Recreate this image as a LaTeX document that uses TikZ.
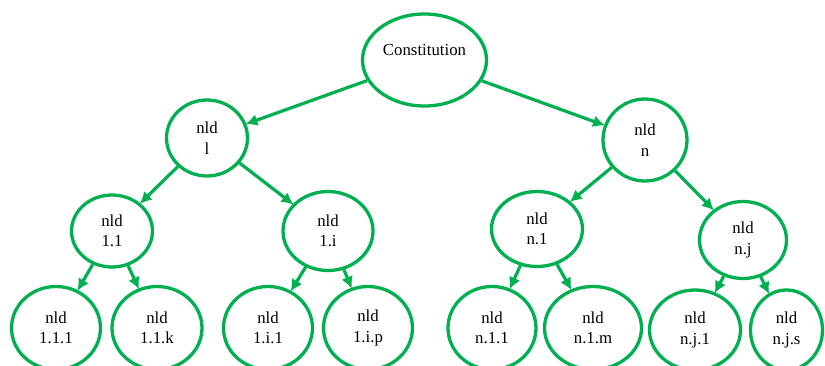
\documentclass[tikz,border=0pt]{standalone}
\usepackage{fontspec}
\setmainfont{Liberation Serif}
\usetikzlibrary{shapes.geometric,arrows.meta}
\definecolor{lgreen}{RGB}{0,176,80}
\begin{document}
\begin{tikzpicture}[x=1pt,y=-1pt,
  el/.style={ellipse,draw=lgreen,line width=3.3pt,inner sep=0pt,align=center,
    font=\fontsize{16.8}{20.5}\selectfont},
  conn/.style={draw=lgreen,line width=3.2pt,-{Latex[length=12pt,width=12pt]},shorten >=-1pt}]
\useasboundingbox (0,0) rectangle (825,365);
\node[el,minimum width=124pt,minimum height=92pt] (C) at (424.5,60) {\raisebox{21pt}{Constitution}};
\node[el,minimum width=81pt,minimum height=76pt] (l) at (207,138) {nld\\l};
\node[el,minimum width=84pt,minimum height=82pt] (n) at (645,140) {nld\\n};
\node[el,minimum width=81pt,minimum height=72pt] (a) at (112,231) {nld\\1.1};
\node[el,minimum width=90pt,minimum height=79pt] (b) at (328,231) {nld\\1.i};
\node[el,minimum width=91pt,minimum height=75pt] (c) at (537,229) {nld\\n.1};
\node[el,minimum width=87pt,minimum height=77pt] (d) at (743,240) {nld\\n.j};
\node[el,minimum width=89pt,minimum height=83pt] (a1) at (56,328) {nld\\1.1.1};
\node[el,minimum width=90pt,minimum height=83pt] (a2) at (157,328) {nld\\1.1.k};
\node[el,minimum width=89pt,minimum height=83pt] (b1) at (268,328) {nld\\1.i.1};
\node[el,minimum width=89pt,minimum height=83pt] (b2) at (368,328) {nld\\1.i.p};
\node[el,minimum width=88pt,minimum height=83pt] (c1) at (492,328) {nld\\n.1.1};
\node[el,minimum width=97pt,minimum height=83pt] (c2) at (593,328) {nld\\n.1.m};
\node[el,minimum width=91pt,minimum height=80pt] (d1) at (695,330) {nld\\n.j.1};
\node[el,minimum width=72pt,minimum height=80pt] (d2) at (786.5,330) {nld\\n.j.s};
\draw[conn] (C) -- (l);
\draw[conn] (C) -- (n);
\draw[conn] (l) -- (a);
\draw[conn] (l) -- (b);
\draw[conn] (n) -- (c);
\draw[conn] (n) -- (d);
\draw[conn] (a) -- (a1);
\draw[conn] (a) -- (a2);
\draw[conn] (b) -- (b1);
\draw[conn] (b) -- (b2);
\draw[conn] (c) -- (c1);
\draw[conn] (c) -- (c2);
\draw[conn] (d) -- (d1);
\draw[conn] (d) -- (d2);
\end{tikzpicture}
\end{document}
